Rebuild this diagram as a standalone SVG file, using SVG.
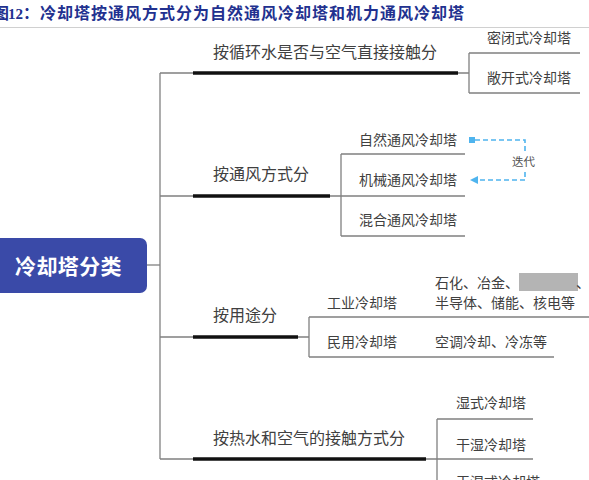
<svg xmlns="http://www.w3.org/2000/svg" width="589" height="480" viewBox="0 0 589 480">
<defs>
<style>
.t{font-family:"Noto Sans CJK SC","Noto Sans",sans-serif;fill:#404040;}
.b{font-size:16px;}
.l{font-size:14px;}
.thin{stroke:#808080;stroke-width:1.3;fill:none;}
.thick{stroke:#111;stroke-width:3.6;fill:none;}
.dash{stroke:#4FB4EE;stroke-width:1.6;fill:none;stroke-dasharray:5 3;}
.title{font-family:"Noto Sans CJK SC",sans-serif;font-weight:bold;font-size:16px;fill:#22318f;}
</style>
</defs>
<rect x="0" y="0" width="589" height="480" fill="#ffffff"/>
<g id="title">
<text class="title" x="-7" y="19">图</text>
<text x="8" y="19" style="font-family:'Liberation Serif',serif;font-weight:bold;font-size:15px;fill:#22318f;">12</text>
<text class="title" x="23" y="19" letter-spacing="1">：冷却塔按通风方式分为自然通风冷却塔和机力通风冷却塔</text>
<line x1="0" y1="27.5" x2="589" y2="27.5" stroke="#d0d0d0" stroke-width="1"/>
</g>
<g id="connectors">
<path class="thin" d="M160,73 V459"/>
<path class="thin" d="M147,265 H160"/>
<path class="thin" d="M160,73 H193 M458,73 H469 M469,53 V93 M469,53 H580 M469,93 H580"/>
<path class="thick" d="M193,73 H458"/>
<path class="thin" d="M160,196 H193 M330,196 H465 M341,154 V236 M341,154 H465 M341,236 H465"/>
<path class="thick" d="M193,196 H330"/>
<path class="thin" d="M160,337 H193 M298,337 H309 M309,317 V357 M309,317 H589 M309,357 H554"/>
<path class="thick" d="M193,337 H298"/>
<path class="thin" d="M160,459 H193 M426,459 H533 M437,419 V480 M437,419 H533"/>
<path class="thick" d="M193,459 H426"/>
<g id="iterate">
<rect x="469" y="137" width="6" height="6" fill="#4FB4EE"/>
<path class="dash" d="M475,140 H525 V151"/>
<path class="dash" d="M525,172 V180 H477"/>
<polygon points="470,180 478,176 478,184" fill="#4FB4EE"/>
<text class="t" x="512" y="166" style="font-size:11.5px;fill:#505050;">迭代</text>
</g>
</g>
<g id="root">
<rect x="-10" y="238" width="157" height="55" rx="7" fill="#3A4AA8"/>
<text x="15" y="274" style="font-family:'Noto Sans CJK SC',sans-serif;font-weight:bold;font-size:21px;fill:#ffffff;" letter-spacing="0.4">冷却塔分类</text>
</g>
<g id="branch1">
<text class="t b" x="213" y="58">按循环水是否与空气直接接触分</text>
<text class="t l" x="487" y="43">密闭式冷却塔</text>
<text class="t l" x="487" y="83">敞开式冷却塔</text>
</g>
<g id="branch2">
<text class="t b" x="213" y="180">按通风方式分</text>
<text class="t l" x="359" y="145">自然通风冷却塔</text>
<text class="t l" x="359" y="185">机械通风冷却塔</text>
<text class="t l" x="359" y="225">混合通风冷却塔</text>
</g>
<g id="branch3">
<text class="t b" x="213" y="321">按用途分</text>
<text class="t l" x="327" y="308">工业冷却塔</text>
<text class="t l" x="327" y="347">民用冷却塔</text>
<text class="t l" x="435" y="288">石化、冶金、</text>
<rect x="519" y="273" width="59" height="18" fill="#b4b4b4"/>
<text class="t l" x="576" y="288">、</text>
<text class="t l" x="435" y="308">半导体、储能、核电等</text>
<text class="t l" x="435" y="347">空调冷却、冷冻等</text>
</g>
<g id="branch4">
<text class="t b" x="213" y="444">按热水和空气的接触方式分</text>
<text class="t l" x="456" y="408">湿式冷却塔</text>
<text class="t l" x="456" y="450">干湿冷却塔</text>
<text class="t l" x="456" y="487">干湿式冷却塔</text>
</g>
</svg>
